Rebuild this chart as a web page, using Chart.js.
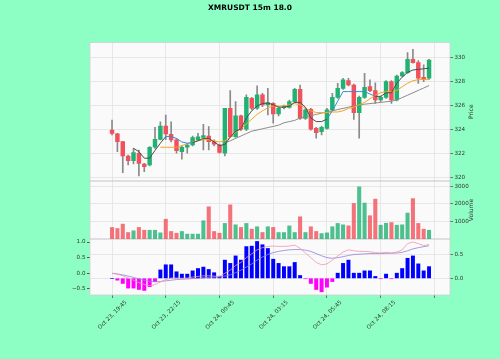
<!DOCTYPE html>
<html>
<head>
<meta charset="utf-8">
<script src="https://cdn.jsdelivr.net/npm/chart.js@4.4.0/dist/chart.umd.min.js"></script>
<style>
  html, body { margin: 0; padding: 0; background: #8dffc4; }
  #wrap { position: relative; width: 500px; height: 359px; }
</style>
</head>
<body>
<div id="wrap"><canvas id="chart" width="500" height="359"></canvas></div>
<script>
// candles (15m bars)
const opens = [324.00, 323.67, 323.03, 321.83, 321.44, 322.06, 321.17, 321.08, 322.56, 323.22,
  324.33, 323.64, 323.17, 322.19, 322.56, 322.75, 323.17, 323.39, 323.50, 323.03,
  322.75, 322.06, 325.81, 323.44, 325.17, 324.06, 326.64, 325.81, 326.92, 326.08,
  326.22, 325.33, 325.86, 325.89, 326.36, 327.39, 324.97, 325.72, 324.14, 323.86,
  324.14, 325.67, 326.72, 327.47, 328.11, 327.75, 325.44, 326.72, 327.61, 327.28,
  326.50, 326.72, 328.03, 326.50, 328.50, 328.78, 329.89, 329.61, 328.39, 328.31];
const highs = [324.83, 323.72, 323.06, 321.92, 322.47, 322.33, 321.22, 322.61, 324.22, 324.69,
  325.25, 324.69, 323.28, 322.67, 322.89, 323.50, 323.72, 324.47, 324.28, 323.17,
  322.83, 325.81, 327.28, 326.36, 325.25, 326.92, 326.72, 327.67, 327.06, 327.47,
  326.28, 325.94, 326.08, 326.50, 327.47, 327.75, 325.81, 325.81, 324.22, 324.33,
  325.81, 327.06, 327.89, 328.31, 328.31, 327.83, 326.83, 328.72, 328.17, 327.94,
  326.83, 328.11, 328.11, 328.58, 328.86, 330.44, 330.72, 329.78, 329.42, 329.89];
const lows = [323.58, 322.20, 320.44, 321.08, 321.17, 320.17, 320.53, 321.00, 322.47, 323.17,
  323.20, 323.00, 322.06, 321.56, 322.06, 322.67, 323.10, 322.33, 322.33, 322.67,
  322.06, 321.83, 323.39, 323.39, 323.94, 323.94, 325.67, 325.72, 325.94, 325.25,
  324.56, 325.17, 325.75, 325.81, 326.28, 324.89, 324.89, 323.99, 323.31, 323.58,
  324.06, 325.61, 326.64, 327.39, 327.67, 324.89, 323.31, 326.64, 327.19, 326.22,
  326.36, 326.64, 326.22, 326.42, 328.44, 328.72, 329.56, 327.89, 328.03, 328.22];
const closes = [323.72, 323.03, 321.83, 321.44, 322.11, 321.22, 320.94, 322.56, 323.22, 324.33,
  323.67, 323.17, 322.28, 322.56, 322.75, 323.36, 323.44, 323.53, 323.03, 322.81,
  322.14, 325.81, 323.44, 325.17, 324.06, 326.72, 325.81, 326.92, 326.08, 326.28,
  325.33, 325.81, 326.00, 326.36, 327.39, 324.97, 325.67, 324.06, 323.78, 324.22,
  325.67, 326.72, 327.47, 328.17, 327.75, 325.44, 326.72, 327.56, 327.28, 326.50,
  326.72, 328.03, 326.50, 328.50, 328.78, 329.89, 329.61, 328.31, 328.22, 329.83];

const volumes = [660, 600, 850, 370, 470, 660, 500, 500, 500, 350,
  1130, 430, 330, 430, 280, 280, 280, 1040, 1840, 430,
  330, 890, 1950, 810, 660, 890, 560, 700, 370, 700,
  660, 370, 370, 750, 370, 1270, 370, 700, 430, 310,
  350, 700, 890, 810, 750, 2030, 2980, 2050, 1330, 2280,
  790, 900, 940, 790, 810, 1480, 2310, 890, 560, 500];

// overlay lines on the price panel
const fastLine = [null, null, null, null, 322.47, 322.20, 321.65, 321.65, 322.30, 322.90,
  323.45, 323.45, 323.30, 323.00, 322.90, 322.95, 323.10, 323.30, 323.30, 323.00,
  322.70, 322.80, 323.40, 323.90, 324.10, 325.00, 325.60, 326.00, 326.20, 326.25,
  326.10, 325.90, 325.90, 326.00, 326.30, 326.30, 325.90, 325.00, 324.70, 324.70,
  324.90, 325.60, 326.40, 327.20, 327.20, 327.20, 327.20, 327.20, 327.00, 326.80,
  326.80, 327.10, 327.10, 327.90, 328.40, 328.80, 329.00, 329.05, 329.10, 329.15];
const fastBlueSpans = [[10, 15], [40, 49]];
const midLine = [null, null, null, null, null, null, null, null, null, 322.56,
  322.56, 322.56, 322.56, 322.70, 322.85, 323.00, 323.10, 323.20, 323.20, 323.10,
  323.00, 323.10, 323.40, 323.80, 324.10, 324.50, 324.90, 325.30, 325.60, 325.85,
  326.00, 326.00, 326.00, 326.10, 326.20, 326.10, 325.80, 325.60, 325.45, 325.45,
  325.45, 325.50, 325.50, 325.60, 325.80, 325.90, 326.10, 326.30, 326.60, 326.90,
  327.10, 327.20, 327.20, 327.30, 327.60, 327.90, 328.10, 328.20, 328.20, 328.20];
const slowLine = [null, null, null, null, null, null, null, null, null, null,
  null, null, null, null, null, null, null, null, null, null,
  null, 322.90, 323.10, 323.30, 323.50, 323.70, 323.90, 324.00, 324.10, 324.20,
  324.30, 324.40, 324.60, 324.70, 324.80, 325.00, 325.10, 325.20, 325.30, 325.40,
  325.50, 325.60, 325.70, 325.80, 325.90, 326.00, 326.10, 326.15, 326.20, 326.25,
  326.30, 326.35, 326.40, 326.50, 326.70, 326.90, 327.10, 327.30, 327.50, 327.70];

// MACD panel
const macdHist = [0.00, -0.04, -0.11, -0.21, -0.21, -0.24, -0.26, -0.18, -0.07, 0.18,
  0.29, 0.29, 0.14, 0.09, 0.09, 0.16, 0.21, 0.24, 0.19, 0.12,
  0.04, 0.39, 0.32, 0.48, 0.39, 0.68, 0.69, 0.79, 0.72, 0.64,
  0.41, 0.32, 0.25, 0.25, 0.34, 0.06, -0.01, -0.11, -0.24, -0.29,
  -0.19, -0.07, 0.11, 0.32, 0.39, 0.11, 0.11, 0.16, 0.16, 0.04,
  -0.01, 0.09, -0.01, 0.11, 0.21, 0.43, 0.48, 0.31, 0.16, 0.25];
const macdLine = [0.00, -0.03, -0.08, -0.15, -0.22, -0.30, -0.36, -0.40, -0.36, -0.28,
  -0.20, -0.15, -0.15, -0.16, -0.15, -0.12, -0.10, -0.08, -0.08, -0.09,
  -0.10, 0.00, 0.10, 0.25, 0.35, 0.50, 0.62, 0.75, 0.82, 0.86,
  0.87, 0.86, 0.86, 0.87, 0.90, 0.80, 0.65, 0.50, 0.35, 0.27,
  0.30, 0.42, 0.55, 0.68, 0.75, 0.72, 0.70, 0.70, 0.69, 0.66,
  0.65, 0.67, 0.65, 0.68, 0.75, 0.95, 1.00, 0.95, 0.88, 0.92];
const signalLine = [0.00, -0.02, -0.05, -0.09, -0.13, -0.18, -0.22, -0.26, -0.27, -0.26,
  -0.24, -0.22, -0.20, -0.19, -0.18, -0.17, -0.16, -0.14, -0.13, -0.12,
  -0.12, -0.09, -0.05, 0.02, 0.10, 0.20, 0.30, 0.42, 0.52, 0.60,
  0.66, 0.70, 0.73, 0.75, 0.76, 0.76, 0.74, 0.70, 0.63, 0.56,
  0.50, 0.48, 0.50, 0.53, 0.57, 0.60, 0.61, 0.62, 0.63, 0.63,
  0.63, 0.64, 0.64, 0.65, 0.67, 0.72, 0.78, 0.82, 0.85, 0.88];

// axes
const xTickIdx = [0, 10, 20, 30, 40, 50, 60];
const xTickLabels = ['Oct 23, 19:45', 'Oct 23, 22:15', 'Oct 24, 00:45', 'Oct 24, 03:15',
  'Oct 24, 05:45', 'Oct 24, 08:15', ''];
const priceTicks = [320, 322, 324, 326, 328, 330];
const volumeTicks = [1000, 2000, 3000];
const histTicks = [0, 0.5];
const macdTicks = [-0.5, 0, 0.5, 1.0];

const FONT = 'DejaVu Sans';
const UP = '#20b273';
const DOWN = '#f2505a';
const GRID = '#e2e2e2';
const TEXT = '#333333';

const idx = opens.map((_, i) => i);
const isUp = i => closes[i] >= opens[i];
const inBlue = i => fastBlueSpans.some(([a, b]) => i >= a && i < b);
const fmt1 = v => (v < 0 ? '\u2212' + Math.abs(v).toFixed(1) : v.toFixed(1));
const setTicks = list => scale => { scale.ticks = list.map(v => ({ value: v })); };

const tickFont = { family: FONT, size: 5.6 };

function rightAxis(extra) {
  return Object.assign({
    position: 'right',
    stack: 'R',
    afterFit: s => { s.width = 50; },
    ticks: { font: tickFont, color: TEXT, padding: 1.5 },
    grid: { color: GRID, lineWidth: 0.8, tickLength: 3, tickColor: '#555' },
    border: { display: false }
  }, extra);
}

const panelPlugin = {
  id: 'panels',
  beforeDraw(chart) {
    const { ctx, chartArea: a } = chart;
    ctx.save();
    ctx.fillStyle = '#8dffc4';
    ctx.fillRect(0, 0, chart.width, chart.height);
    ctx.fillStyle = '#fafafa';
    ['yP', 'yV', 'yM'].forEach(id => {
      const s = chart.scales[id];
      ctx.fillRect(a.left, s.top, a.right - a.left, s.bottom - s.top);
    });
    ctx.restore();
  },
  beforeDatasetsDraw(chart) {
    const { ctx, chartArea: a } = chart;
    ctx.save();
    ctx.strokeStyle = '#cfcfcf';
    ctx.lineWidth = 0.8;
    ['yP', 'yV', 'yM'].forEach(id => {
      const s = chart.scales[id];
      ctx.strokeRect(a.left, s.top, a.right - a.left, s.bottom - s.top);
    });
    ctx.restore();
  },
  afterDraw(chart) {
    // right-hand panel labels, rotated like matplotlib's ylabel
    const { ctx, chartArea: a } = chart;
    ctx.save();
    ctx.fillStyle = TEXT;
    ctx.font = '6px "' + FONT + '"';
    ctx.textAlign = 'center';
    ctx.textBaseline = 'middle';
    [['yP', 'Price'], ['yV', 'Volume']].forEach(([id, txt]) => {
      const s = chart.scales[id];
      ctx.save();
      ctx.translate(a.right + 21, (s.top + s.bottom) / 2);
      ctx.rotate(-Math.PI / 2);
      ctx.fillText(txt, 0, 0);
      ctx.restore();
    });
    ctx.restore();
  }
};

function lineSet(data, color, axis, width, order) {
  return {
    type: 'line',
    data: data.map((v, i) => ({ x: i, y: v })),
    yAxisID: axis,
    borderColor: color,
    borderWidth: width,
    pointRadius: 0,
    tension: 0,
    spanGaps: false,
    order: order
  };
}

const fastSet = lineSet(fastLine, '#4d4d4d', 'yP', 1, 1);
fastSet.segment = { borderColor: c => (inBlue(c.p0DataIndex) ? '#3a8ad4' : '#4d4d4d') };

new Chart(document.getElementById('chart'), {
  type: 'bar',
  data: {
    datasets: [
      {
        // wicks
        data: idx.map(i => ({ x: i, y: [lows[i], highs[i]] })),
        yAxisID: 'yP',
        backgroundColor: '#8a8a8a',
        barThickness: 1,
        grouped: false,
        order: 10
      },
      {
        // bodies
        data: idx.map(i => ({ x: i, y: [opens[i], closes[i]] })),
        yAxisID: 'yP',
        backgroundColor: c => (isUp(c.dataIndex) ? UP : DOWN),
        barThickness: 3.8,
        grouped: false,
        order: 5
      },
      fastSet,
      lineSet(midLine, '#f5a623', 'yP', 1, 2),
      lineSet(slowLine, '#8c8c8c', 'yP', 1, 3),
      {
        data: idx.map(i => ({ x: i, y: volumes[i] })),
        yAxisID: 'yV',
        backgroundColor: c => (isUp(c.dataIndex) ? 'rgba(32,178,115,0.8)' : 'rgba(242,80,90,0.8)'),
        barThickness: 3.4,
        grouped: false,
        order: 5
      },
      {
        data: idx.map(i => ({ x: i, y: macdHist[i] })),
        yAxisID: 'yM',
        backgroundColor: c => (macdHist[c.dataIndex] >= 0 ? '#0000ff' : '#ff00ff'),
        barThickness: 3.3,
        grouped: false,
        order: 5
      },
      lineSet(macdLine, '#f095ad', 'lM', 0.8, 1),
      lineSet(signalLine, '#8f83dc', 'lM', 0.8, 1)
    ]
  },
  options: {
    responsive: false,
    animation: false,
    devicePixelRatio: 1,
    layout: { padding: 0 },
    plugins: {
      legend: { display: false },
      tooltip: { enabled: false },
      title: {
        display: true,
        text: 'XMRUSDT 15m 18.0',
        color: '#000',
        font: { family: FONT, size: 7.5, weight: 'bold' },
        padding: { top: 4, bottom: 29.5 }
      }
    },
    scales: {
      x: {
        type: 'linear',
        position: 'bottom',
        min: -4.1,
        max: 62.9,
        offset: false,
        afterBuildTicks: setTicks(xTickIdx),
        afterFit: s => { s.height = 64; },
        ticks: {
          autoSkip: false,
          minRotation: 45,
          maxRotation: 45,
          labelOffset: 14,
          padding: 1,
          font: tickFont,
          color: TEXT,
          callback: (v, i) => xTickLabels[i]
        },
        grid: { color: GRID, lineWidth: 0.8, offset: false, tickLength: 3, tickColor: '#555' },
        border: { display: false }
      },
      yP: rightAxis({
        stackWeight: 138.5, min: 319.75, max: 331.29,
        afterBuildTicks: setTicks(priceTicks),
        ticks: { font: tickFont, color: TEXT, padding: 1.5, callback: v => String(v) }
      }),
      yV: rightAxis({
        stackWeight: 58, min: 0, max: 3314,
        afterBuildTicks: setTicks(volumeTicks),
        ticks: { font: tickFont, color: TEXT, padding: 1.5, callback: v => String(v) }
      }),
      yM: rightAxis({
        stackWeight: 56, min: -0.358, max: 0.843,
        afterBuildTicks: setTicks(histTicks),
        ticks: { font: tickFont, color: TEXT, padding: 1.5, callback: v => fmt1(v) }
      }),
      lM: {
        position: 'left', stack: 'L', stackWeight: 56,
        min: -0.693, max: 1.096,
        afterBuildTicks: setTicks(macdTicks),
        afterFit: s => { s.width = 90; },
        ticks: { font: tickFont, color: TEXT, padding: 1.5, callback: v => fmt1(v) },
        grid: { drawOnChartArea: false, tickLength: 3, tickColor: '#555' },
        border: { display: false }
      },
      lV: { position: 'left', stack: 'L', stackWeight: 58, display: false },
      lP: { position: 'left', stack: 'L', stackWeight: 138.5, display: false }
    }
  },
  plugins: [panelPlugin]
});
</script>
</body>
</html>
